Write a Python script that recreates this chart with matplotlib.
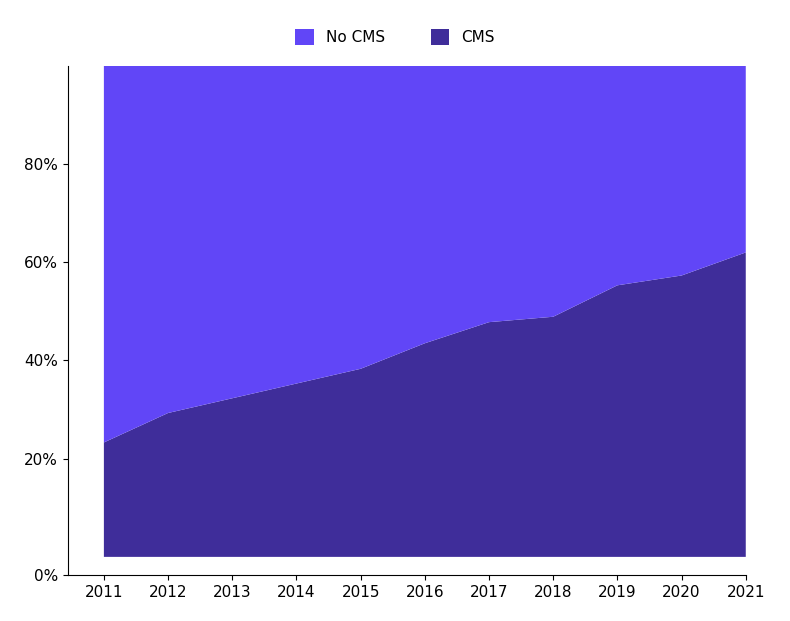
import numpy as np
import matplotlib.pyplot as plt
from matplotlib.patches import Patch

years = [2011, 2012, 2013, 2014, 2015, 2016, 2017, 2018, 2019, 2020, 2021]
cms = [23.3, 29.3, 32.3, 35.3, 38.3, 43.5, 47.8, 48.9, 55.3, 57.3, 62.0]
no_cms = [100 - v for v in cms]

c_cms = "#3f2d9a"
c_no = "#6146f7"

fig = plt.figure(figsize=(7.9, 6.21), dpi=100)
ax = fig.add_axes([0.086, 0.074, 0.858, 0.82])
ax.stackplot(years, cms, no_cms, colors=[c_cms, c_no], linewidth=0)

ax.set_xlim(2010.44, 2021)
ax.set_ylim(-3.7, 100)
ax.set_xticks(years)
ax.set_yticks([-3.7, 20, 40, 60, 80])
ax.set_yticklabels(["0%", "20%", "40%", "60%", "80%"])
for s in ["top", "right"]:
    ax.spines[s].set_visible(False)
ax.tick_params(labelsize=11)

handles = [Patch(facecolor=c_no, label="No CMS"), Patch(facecolor=c_cms, label="CMS")]
fig.legend(handles=handles, loc="upper center", bbox_to_anchor=(0.5, 0.975), ncol=2,
           frameon=False, fontsize=11, handlelength=1.2, handleheight=1.2, columnspacing=3)

fig.savefig("out.png")
